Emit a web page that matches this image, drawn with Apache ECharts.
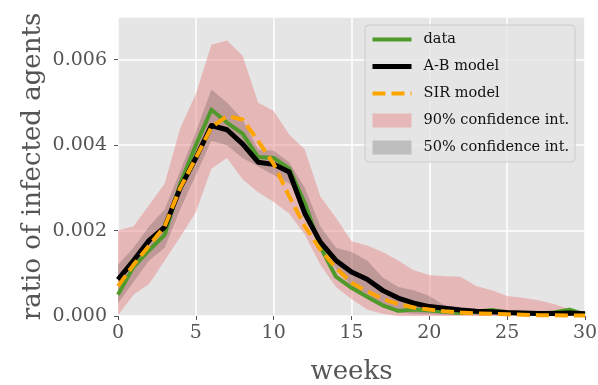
<!DOCTYPE html>
<html>
<head>
<meta charset="utf-8">
<script src="https://cdn.jsdelivr.net/npm/echarts@6/dist/echarts.min.js"></script>
<style>
  html, body { margin: 0; padding: 0; background: #fff; }
  #chart { width: 598px; height: 385px; }
</style>
</head>
<body>
<div id="chart"></div>
<script>
const weeks = [0, 1, 2, 3, 4, 5, 6, 7, 8, 9, 10, 11, 12, 13, 14, 15, 16, 17, 18, 19, 20, 21, 22, 23, 24, 25, 26, 27, 28, 29, 30];

const observed = [0.0005, 0.00115, 0.00154, 0.0019, 0.0031, 0.0040, 0.00483, 0.00453, 0.00427, 0.00372,
  0.00370, 0.00345, 0.00264, 0.00162, 0.00092, 0.00066, 0.00045, 0.00025, 0.00012, 0.00015,
  0.00013, 0.0001, 0.00007, 0.0001, 0.00014, 0.00008, 0.00005, 0.00006, 0.00008, 0.00015, 0.00003];

const abModel = [0.00085, 0.0013, 0.00177, 0.00208, 0.0030, 0.0037, 0.00446, 0.00436, 0.00403, 0.0036,
  0.00355, 0.00337, 0.0024, 0.00173, 0.0013, 0.00103, 0.00086, 0.0006, 0.00042, 0.0003,
  0.00022, 0.00018, 0.00014, 0.00011, 0.0001, 0.00008, 0.00007, 0.00006, 0.00006, 0.00007, 0.00005];

const sirModel = [0.0007, 0.0012, 0.00165, 0.0021, 0.0030, 0.0037, 0.00442, 0.00468, 0.0046, 0.0041,
  0.00356, 0.0028, 0.0021, 0.00155, 0.00113, 0.00078, 0.00058, 0.0004, 0.00028, 0.0002,
  0.00015, 0.00011, 0.00008, 0.00006, 0.00005, 0.00004, 0.00003, 0.00002, 0.00002, 0.00001, 0.00001];

const ci90Low = [0.00002, 0.0005, 0.00075, 0.0013, 0.00185, 0.00243, 0.00345, 0.0037, 0.0032, 0.0029,
  0.00267, 0.0024, 0.0019, 0.0012, 0.00068, 0.0004, 0.00015, 0.00005, 0, 0,
  0, 0, 0, 0, 0, 0, 0, 0, 0, 0, 0];
const ci90High = [0.0020, 0.0021, 0.0026, 0.0031, 0.0044, 0.0052, 0.00635, 0.00645, 0.0061, 0.0050,
  0.0048, 0.00425, 0.0039, 0.0028, 0.0023, 0.00175, 0.00165, 0.0015, 0.0013, 0.00107,
  0.00096, 0.00093, 0.00092, 0.0007, 0.0006, 0.00047, 0.00043, 0.00037, 0.00028, 0.00016, 0.0001];

const ci50Low = [0.0003, 0.0008, 0.0013, 0.0016, 0.0025, 0.0033, 0.0041, 0.0040, 0.0037, 0.0035,
  0.0033, 0.0031, 0.0027, 0.0017, 0.0011, 0.0007, 0.0004, 0.0002, 0.00008, 0.00005,
  0.00004, 0.00003, 0.00003, 0.00002, 0.00002, 0.00002, 0.00002, 0.00002, 0.00002, 0.00002, 0.00002];
const ci50High = [0.0012, 0.0016, 0.0021, 0.0025, 0.0034, 0.0043, 0.0053, 0.0050, 0.0046, 0.0039,
  0.00387, 0.0036, 0.0030, 0.0021, 0.0016, 0.0015, 0.0013, 0.0009, 0.00068, 0.0006,
  0.00047, 0.00024, 0.0002, 0.00015, 0.00012, 0.0001, 0.0001, 0.00009, 0.00008, 0.00008, 0.00006];

const xTicks = [0, 5, 10, 15, 20, 25, 30];

const FONT = 'DejaVu Serif';
const PINK = 'rgba(230,120,120,0.42)';
const GREY = 'rgba(0,0,0,0.17)';
const GREEN = '#4f9a2b';
const ORANGE = '#ffa500';

function pairs(vals) {
  return weeks.map((w, i) => [w, vals[i]]);
}

const chart = echarts.init(document.getElementById('chart'));

// one filled polygon per band, drawn once through the axis scales
function band(name, lo, hi, color) {
  return {
    name: name, type: 'custom', silent: true,
    itemStyle: { color: color },
    encode: { x: 0, y: [1, 2] },
    data: weeks.map((w, i) => [w, lo[i], hi[i]]),
    renderItem: (params, api) => {
      if (params.dataIndex !== 0) return null;
      const top = weeks.map((w, i) => api.coord([w, hi[i]]));
      const bottom = weeks.map((w, i) => api.coord([w, lo[i]])).reverse();
      return {
        type: 'polygon',
        shape: { points: top.concat(bottom) },
        style: { fill: color },
      };
    },
  };
}

const hideSymbol = { color: 'transparent', opacity: 0, borderWidth: 0 };

const option = {
  animation: false,
  textStyle: { fontFamily: FONT },
  grid: {
    left: 118, right: 13, top: 17, bottom: 69,
    containLabel: false, outerBoundsMode: 'none',
    show: true, backgroundColor: '#e5e5e5', borderWidth: 0,
  },
  legend: {
    orient: 'vertical',
    left: 365, top: 25,
    padding: [7, 6, 7, 5],
    itemWidth: 39, itemHeight: 14, itemGap: 12,
    backgroundColor: 'rgba(229,229,229,0.8)',
    borderColor: '#cccccc', borderWidth: 1, borderRadius: 4,
    textStyle: { fontFamily: FONT, fontSize: 14.5, color: '#111', padding: [0, 0, 0, 7] },
    data: [
      { name: 'data', itemStyle: hideSymbol, lineStyle: { color: GREEN, width: 4 } },
      { name: 'A-B model', itemStyle: hideSymbol, lineStyle: { color: '#000', width: 5 } },
      { name: 'SIR model', itemStyle: hideSymbol, lineStyle: { color: ORANGE, width: 4, type: [13, 6] } },
      { name: '90% confidence int.', icon: 'rect', itemStyle: { color: 'rgb(230,183,183)' } },
      { name: '50% confidence int.', icon: 'rect', itemStyle: { color: 'rgb(190,190,190)' } },
    ],
  },
  xAxis: {
    type: 'value', min: 0, max: 30, interval: 5,
    name: 'weeks', nameLocation: 'middle', nameGap: 43,
    nameTextStyle: { fontFamily: FONT, fontSize: 26, color: '#555' },
    axisLine: { show: false },
    axisTick: { show: true, length: 4, lineStyle: { color: '#555' } },
    axisLabel: {
      margin: 8, fontFamily: FONT, fontSize: 19, color: '#555',
      formatter: v => (xTicks.includes(v) ? String(v) : ''),
    },
    splitLine: { show: true, lineStyle: { color: '#ffffff', width: 1.5 } },
  },
  yAxis: {
    type: 'value', min: 0, max: 0.007, interval: 0.002,
    name: 'ratio of infected agents', nameLocation: 'middle', nameGap: 72,
    nameMoveOverlap: false,
    nameTextStyle: { fontFamily: FONT, fontSize: 26, color: '#555' },
    axisLine: { show: false },
    axisTick: { show: true, length: 4, lineStyle: { color: '#555' } },
    axisLabel: {
      margin: 11, fontFamily: FONT, fontSize: 19, color: '#555', showMaxLabel: false,
      formatter: v => v.toFixed(3),
    },
    splitLine: { show: true, lineStyle: { color: '#ffffff', width: 1.5 } },
  },
  series: [
    band('90% confidence int.', ci90Low, ci90High, PINK),
    band('50% confidence int.', ci50Low, ci50High, GREY),
    {
      name: 'data', type: 'line', data: pairs(observed), symbol: 'none',
      itemStyle: { color: GREEN },
      lineStyle: { color: GREEN, width: 4, join: 'round' },
    },
    {
      name: 'A-B model', type: 'line', data: pairs(abModel), symbol: 'none',
      itemStyle: { color: '#000000' },
      lineStyle: { color: '#000000', width: 5, join: 'round' },
    },
    {
      name: 'SIR model', type: 'line', data: pairs(sirModel), symbol: 'none',
      itemStyle: { color: ORANGE },
      lineStyle: { color: ORANGE, width: 4, type: [13, 6] },
    },
  ],
};

chart.setOption(option);
</script>
</body>
</html>
